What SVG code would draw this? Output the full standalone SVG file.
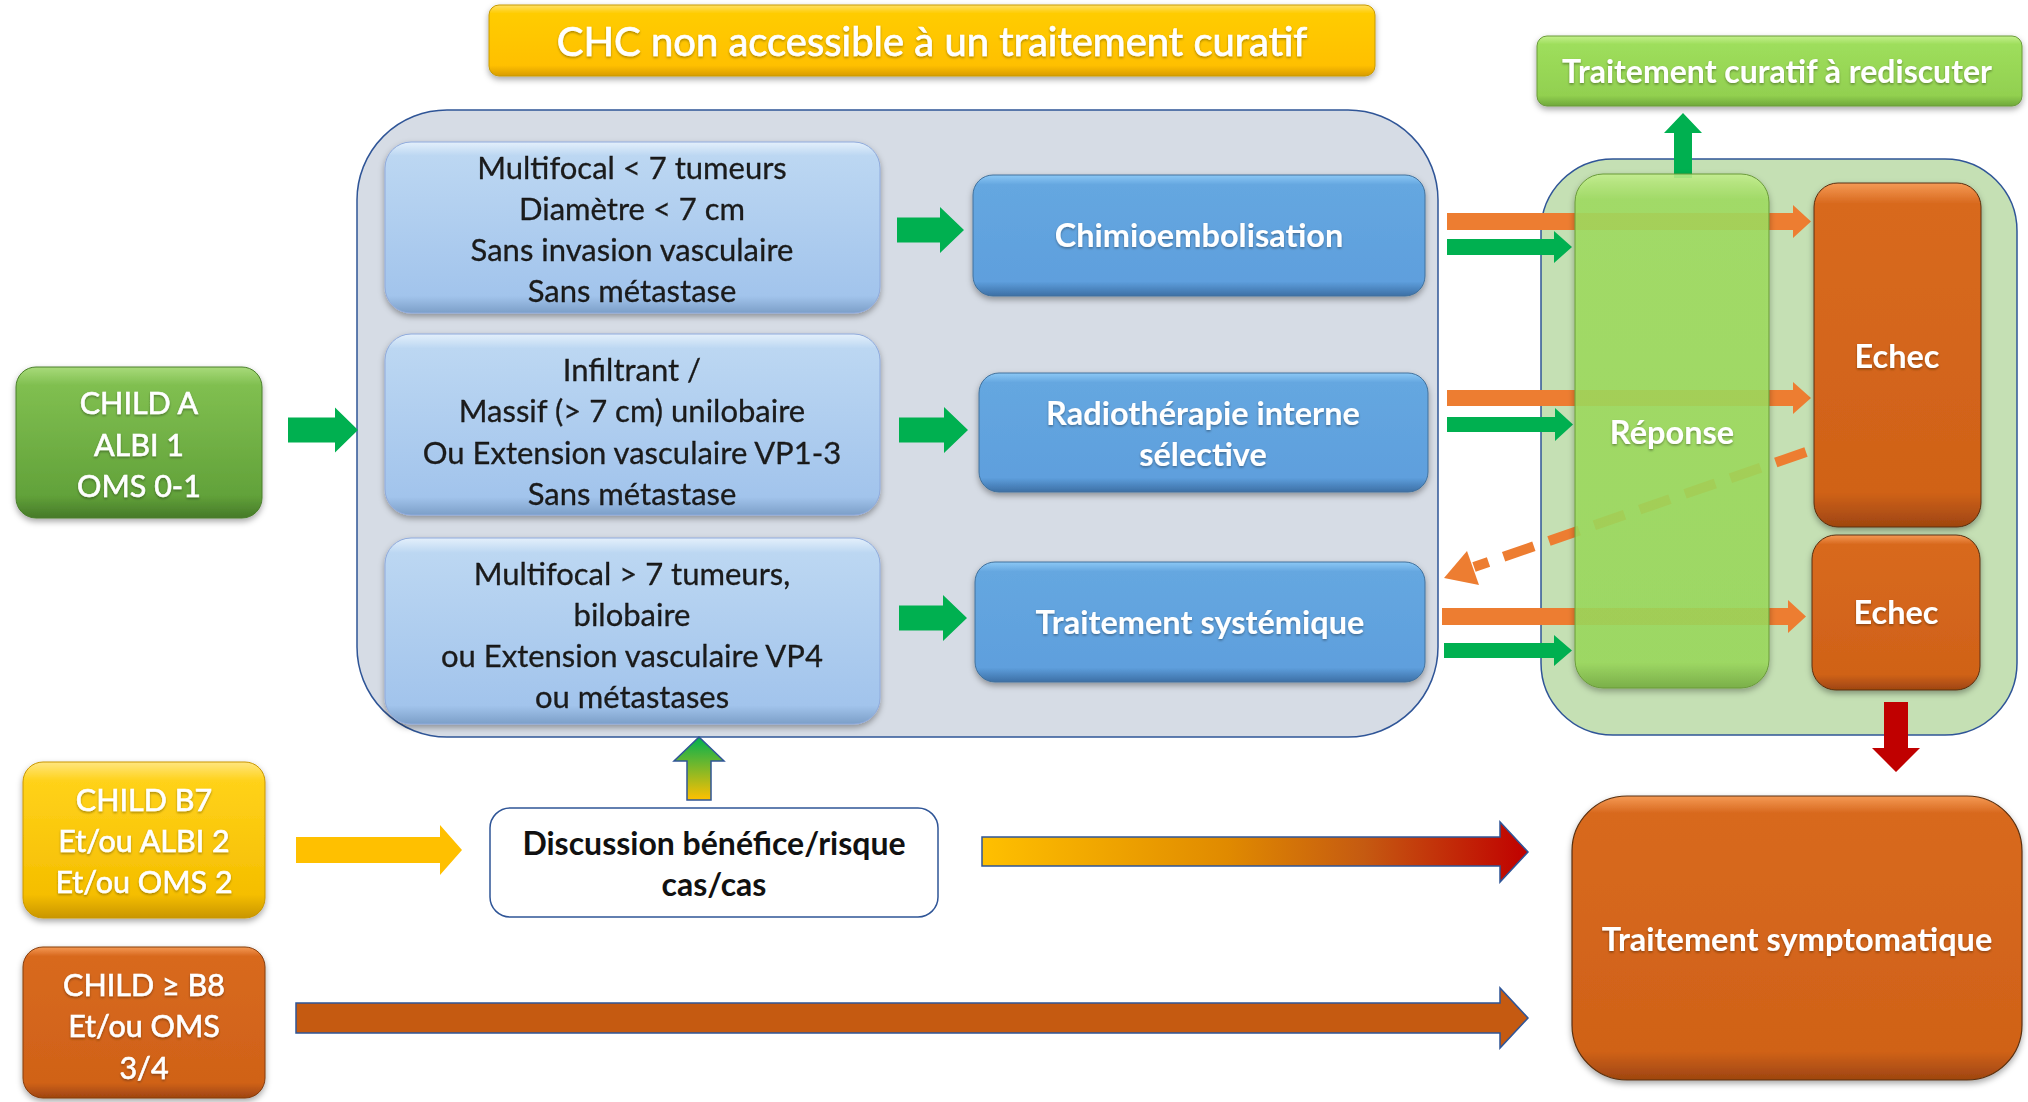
<svg xmlns="http://www.w3.org/2000/svg" width="2028" height="1102" viewBox="0 0 2028 1102">
<defs>
  <style>
    text { font-family: Lato, "Open Sans", "Liberation Sans", sans-serif; text-anchor: middle; }
    .crit { font-size: 31px; fill: #1a1a1a; stroke: #1a1a1a; stroke-width: 0.3; }
    .wb { font-size: 32.5px; font-weight: 700; fill: #ffffff; }
    .wr { font-size: 30.5px; fill: #ffffff; stroke: #ffffff; stroke-width: 0.6; }
    .title { font-size: 40px; fill: #ffffff; stroke: #ffffff; stroke-width: 0.7; }
    .disc { font-size: 32px; font-weight: 700; fill: #111111; }
    .garrow { fill: #00b050; }
    .oarrow { fill: #ed7d31; }
    .outl { stroke: #2f5597; stroke-width: 1.5; }
  </style>
  <filter id="sh" x="-10%" y="-10%" width="120%" height="130%">
    <feDropShadow dx="0" dy="3" stdDeviation="3" flood-color="#000" flood-opacity="0.35"/>
  </filter>
  <filter id="tsh" x="-5%" y="-20%" width="110%" height="140%">
    <feDropShadow dx="0" dy="1.5" stdDeviation="1" flood-color="#000" flood-opacity="0.35"/>
  </filter>
  <linearGradient id="gYellow" x1="0" y1="0" x2="0" y2="1">
    <stop offset="0" stop-color="#ffe066"/>
    <stop offset="0.12" stop-color="#ffcc00"/>
    <stop offset="0.85" stop-color="#ffc000"/>
    <stop offset="1" stop-color="#d99c00"/>
  </linearGradient>
  <linearGradient id="gLime" x1="0" y1="0" x2="0" y2="1">
    <stop offset="0" stop-color="#c4f08c"/>
    <stop offset="0.12" stop-color="#9ede5c"/>
    <stop offset="0.85" stop-color="#92d050"/>
    <stop offset="1" stop-color="#6fa83a"/>
  </linearGradient>
  <linearGradient id="gResp" x1="0" y1="0" x2="0" y2="1">
    <stop offset="0" stop-color="#c4f08c"/>
    <stop offset="0.05" stop-color="#a0de60"/>
    <stop offset="0.95" stop-color="#9cdb5c"/>
    <stop offset="1" stop-color="#74ad3e"/>
  </linearGradient>
  <linearGradient id="gGreen" x1="0" y1="0" x2="0" y2="1">
    <stop offset="0" stop-color="#a8da7a"/>
    <stop offset="0.12" stop-color="#80bf50"/>
    <stop offset="0.85" stop-color="#62a23a"/>
    <stop offset="1" stop-color="#467a28"/>
  </linearGradient>
  <linearGradient id="gYel2" x1="0" y1="0" x2="0" y2="1">
    <stop offset="0" stop-color="#ffe680"/>
    <stop offset="0.12" stop-color="#ffd21a"/>
    <stop offset="0.85" stop-color="#f5be00"/>
    <stop offset="1" stop-color="#c99600"/>
  </linearGradient>
  <linearGradient id="gOrange" x1="0" y1="0" x2="0" y2="1">
    <stop offset="0" stop-color="#f59a55"/>
    <stop offset="0.06" stop-color="#d8691e"/>
    <stop offset="0.9" stop-color="#d06218"/>
    <stop offset="1" stop-color="#9e4510"/>
  </linearGradient>
  <linearGradient id="gLightBlue" x1="0" y1="0" x2="0" y2="1">
    <stop offset="0" stop-color="#e4f0fb"/>
    <stop offset="0.08" stop-color="#bcd7f2"/>
    <stop offset="0.9" stop-color="#a2c4ec"/>
    <stop offset="1" stop-color="#7c9fc8"/>
  </linearGradient>
  <linearGradient id="gBlue" x1="0" y1="0" x2="0" y2="1">
    <stop offset="0" stop-color="#8cc8f5"/>
    <stop offset="0.08" stop-color="#65a7e0"/>
    <stop offset="0.88" stop-color="#5e9fdd"/>
    <stop offset="1" stop-color="#3d6fa5"/>
  </linearGradient>
  <linearGradient id="gUp" x1="0" y1="0" x2="0" y2="1">
    <stop offset="0" stop-color="#00b050"/>
    <stop offset="1" stop-color="#ffc000"/>
  </linearGradient>
  <linearGradient id="gRight" x1="0" y1="0" x2="1" y2="0">
    <stop offset="0" stop-color="#ffc000"/>
    <stop offset="0.45" stop-color="#e08a00"/>
    <stop offset="0.7" stop-color="#c55a11"/>
    <stop offset="1" stop-color="#c00000"/>
  </linearGradient>
</defs>

<rect width="2028" height="1102" fill="#ffffff"/>

<!-- containers -->
<g id="container-main">
  <rect x="357" y="110" width="1081" height="627" rx="90" ry="90" fill="#d6dce5" stroke="#2f5597" stroke-width="1.5"/>
</g>
<g id="container-result">
  <rect x="1541" y="159" width="476" height="576" rx="72" ry="72" fill="#c5e0b4" stroke="#2f5597" stroke-width="1.5"/>
</g>

<!-- connectors -->
<g id="connectors">
  <path class="garrow" d="M288,417.5 L335,417.5 L335,407.5 L358,430 L335,452.5 L335,442.5 L288,442.5 Z"/>
  <path class="garrow" d="M897,217.5 L940,217.5 L940,207 L964,230 L940,253 L940,242.5 L897,242.5 Z"/>
  <path class="garrow" d="M899,417.5 L944,417.5 L944,407 L968,430 L944,453 L944,442.5 L899,442.5 Z"/>
  <path class="garrow" d="M899,605.5 L943,605.5 L943,595 L967,618 L943,641 L943,630.5 L899,630.5 Z"/>

  <path class="oarrow" d="M1447,213 L1793,213 L1793,205 L1811,221.5 L1793,238 L1793,230 L1447,230 Z"/>
  <path class="garrow" d="M1447,239 L1554,239 L1554,231 L1572,247 L1554,263 L1554,255 L1447,255 Z"/>
  <path class="oarrow" d="M1447,390 L1793,390 L1793,382 L1811,398 L1793,414 L1793,406 L1447,406 Z"/>
  <path class="garrow" d="M1447,417 L1555,417 L1555,408 L1573,424.5 L1555,441 L1555,432 L1447,432 Z"/>
  <path class="oarrow" d="M1442,608 L1788,608 L1788,600 L1806,616.5 L1788,633 L1788,625 L1442,625 Z"/>
  <path class="garrow" d="M1444,643 L1554,643 L1554,635 L1572,650.5 L1554,666 L1554,658 L1444,658 Z"/>

  <line x1="1806" y1="452" x2="1474" y2="567" stroke="#ed7d31" stroke-width="10" stroke-dasharray="32 16"/>
  <path class="oarrow" d="M1444,578 L1467,551 L1479,585 Z"/>

  <path class="garrow" d="M1674,178 L1674,133 L1664,133 L1683,113 L1702,133 L1692,133 L1692,178 Z"/>
  <path fill="#c00000" d="M1884,702 L1908,702 L1908,748 L1920,748 L1896,772 L1872,748 L1884,748 Z"/>

  <path fill="url(#gUp)" class="outl" d="M687,800 L687,761 L674,761 L699,737 L724,761 L711,761 L711,800 Z"/>
  <path fill="#ffc000" d="M296,837 L440,837 L440,825 L462,850 L440,875 L440,863 L296,863 Z"/>
  <path fill="url(#gRight)" class="outl" d="M982,837 L1500,837 L1500,822 L1528,852 L1500,882 L1500,866 L982,866 Z"/>
  <path fill="#c55a11" class="outl" d="M296,1003 L1500,1003 L1500,988 L1528,1018 L1500,1048 L1500,1033 L296,1033 Z"/>
</g>

<!-- nodes -->
<g id="title" filter="url(#sh)">
  <rect x="489" y="5" width="886" height="71" rx="10" fill="url(#gYellow)" stroke="#c79a00" stroke-width="1"/>
  <text class="title" x="932" y="56" filter="url(#tsh)">CHC non accessible à un traitement curatif</text>
</g>

<g id="curatif" filter="url(#sh)">
  <rect x="1537" y="36" width="485" height="70" rx="10" fill="url(#gLime)" stroke="#6a9a3a" stroke-width="1"/>
  <text class="wb" x="1777" y="83" style="font-size:32px" filter="url(#tsh)">Traitement curatif à rediscuter</text>
</g>

<g id="crit1" filter="url(#sh)">
  <rect x="385" y="142" width="495" height="171" rx="26" fill="url(#gLightBlue)" stroke="#8faadc" stroke-width="1"/>
  <text class="crit" x="632" y="179">Multifocal &lt; 7 tumeurs</text>
  <text class="crit" x="632" y="220">Diamètre &lt; 7 cm</text>
  <text class="crit" x="632" y="261">Sans invasion vasculaire</text>
  <text class="crit" x="632" y="302">Sans métastase</text>
</g>

<g id="crit2" filter="url(#sh)">
  <rect x="385" y="334" width="495" height="181" rx="26" fill="url(#gLightBlue)" stroke="#8faadc" stroke-width="1"/>
  <text class="crit" x="632" y="381">Infiltrant /</text>
  <text class="crit" x="632" y="422">Massif (&gt; 7 cm) unilobaire</text>
  <text class="crit" x="632" y="464">Ou Extension vasculaire VP1-3</text>
  <text class="crit" x="632" y="505">Sans métastase</text>
</g>

<g id="crit3" filter="url(#sh)">
  <rect x="385" y="538" width="495" height="186" rx="26" fill="url(#gLightBlue)" stroke="#8faadc" stroke-width="1"/>
  <text class="crit" x="632" y="585">Multifocal &gt; 7 tumeurs,</text>
  <text class="crit" x="632" y="626">bilobaire</text>
  <text class="crit" x="632" y="667">ou Extension vasculaire VP4</text>
  <text class="crit" x="632" y="708">ou métastases</text>
</g>

<g id="chimio" filter="url(#sh)">
  <rect x="973" y="175" width="452" height="121" rx="20" fill="url(#gBlue)" stroke="#41719c" stroke-width="1"/>
  <text class="wb" x="1199" y="247" filter="url(#tsh)">Chimioembolisation</text>
</g>

<g id="radio" filter="url(#sh)">
  <rect x="979" y="373" width="449" height="119" rx="20" fill="url(#gBlue)" stroke="#41719c" stroke-width="1"/>
  <text class="wb" x="1203" y="425" filter="url(#tsh)">Radiothérapie interne</text>
  <text class="wb" x="1203" y="466" filter="url(#tsh)">sélective</text>
</g>

<g id="systemique" filter="url(#sh)">
  <rect x="975" y="562" width="450" height="120" rx="20" fill="url(#gBlue)" stroke="#41719c" stroke-width="1"/>
  <text class="wb" x="1200" y="634" filter="url(#tsh)">Traitement systémique</text>
</g>

<g id="childA" filter="url(#sh)">
  <rect x="16" y="367" width="246" height="151" rx="20" fill="url(#gGreen)" stroke="#4a7f2b" stroke-width="1"/>
  <text class="wr" x="139" y="414" filter="url(#tsh)">CHILD A</text>
  <text class="wr" x="139" y="456" filter="url(#tsh)">ALBI 1</text>
  <text class="wr" x="139" y="497" filter="url(#tsh)">OMS 0-1</text>
</g>

<g id="childB7" filter="url(#sh)">
  <rect x="23" y="762" width="242" height="156" rx="20" fill="url(#gYel2)" stroke="#c99600" stroke-width="1"/>
  <text class="wr" x="144" y="811" filter="url(#tsh)">CHILD B7</text>
  <text class="wr" x="144" y="852" filter="url(#tsh)">Et/ou ALBI 2</text>
  <text class="wr" x="144" y="893" filter="url(#tsh)">Et/ou OMS 2</text>
</g>

<g id="childB8" filter="url(#sh)">
  <rect x="23" y="947" width="242" height="151" rx="20" fill="url(#gOrange)" stroke="#843c0c" stroke-width="1"/>
  <text class="wr" x="144" y="996" filter="url(#tsh)">CHILD ≥ B8</text>
  <text class="wr" x="144" y="1037" filter="url(#tsh)">Et/ou OMS</text>
  <text class="wr" x="144" y="1079" filter="url(#tsh)">3/4</text>
</g>

<g id="discussion">
  <rect x="490" y="808" width="448" height="109" rx="20" fill="#ffffff" stroke="#2f5597" stroke-width="1.5"/>
  <text class="disc" x="714" y="855">Discussion bénéfice/risque</text>
  <text class="disc" x="714" y="896">cas/cas</text>
</g>

<g id="symptomatique" filter="url(#sh)">
  <rect x="1572" y="796" width="450" height="284" rx="55" fill="url(#gOrange)" stroke="#5a3010" stroke-width="1.2"/>
  <text class="wb" x="1797" y="951" filter="url(#tsh)">Traitement symptomatique</text>
</g>

<g id="reponse" filter="url(#sh)">
  <rect x="1575" y="174" width="194" height="514" rx="28" fill="url(#gResp)" fill-opacity="0.85" stroke="#6a9a3a" stroke-width="1"/>
  <text class="wb" x="1672" y="444" filter="url(#tsh)">Réponse</text>
</g>

<g id="echec1" filter="url(#sh)">
  <rect x="1814" y="183" width="167" height="344" rx="24" fill="url(#gOrange)" stroke="#5a3010" stroke-width="1"/>
  <text class="wb" x="1897" y="368" filter="url(#tsh)">Echec</text>
</g>

<g id="echec2" filter="url(#sh)">
  <rect x="1812" y="535" width="168" height="155" rx="24" fill="url(#gOrange)" stroke="#5a3010" stroke-width="1"/>
  <text class="wb" x="1896" y="624" filter="url(#tsh)">Echec</text>
</g>
</svg>
